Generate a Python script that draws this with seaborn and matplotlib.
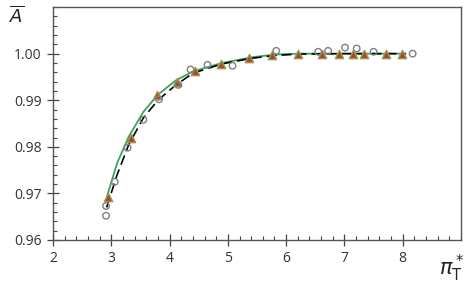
import numpy as np
import pandas as pd
import matplotlib
matplotlib.use("Agg")
import matplotlib.pyplot as plt
from matplotlib.ticker import MultipleLocator, FixedLocator
import seaborn as sns

# green solid curve
green_x = [2.93, 3.1, 3.3, 3.55, 3.8, 4.1, 4.4, 4.9, 5.4, 5.8, 6.2, 7.0, 8.05]
green_y = [0.9695, 0.9765, 0.9822, 0.9875, 0.9912, 0.9942, 0.9962, 0.9980, 0.9992, 0.9998, 1.0000, 1.0000, 1.0000]

# black dashed curve
dash_x = [2.92, 3.1, 3.3, 3.55, 3.8, 4.1, 4.4, 4.9, 5.4, 5.8, 6.2, 7.0, 8.05]
dash_y = [0.9670, 0.9740, 0.9805, 0.9862, 0.9900, 0.9932, 0.9958, 0.9978, 0.9990, 0.9996, 0.9999, 1.0000, 1.0000]

# triangles
tri_x = [2.94, 3.33, 3.79, 4.12, 4.43, 4.89, 5.37, 5.76, 6.21, 6.62, 6.91, 7.15, 7.33, 7.71, 7.98]
tri_y = [0.9693, 0.9820, 0.9912, 0.9940, 0.9963, 0.9978, 0.9991, 0.9998, 1.0000, 1.0000, 1.0000, 1.0000, 1.0000, 1.0000, 1.0000]

# open circles
circ_x = [2.91, 2.91, 3.06, 3.28, 3.55, 3.82, 4.15, 4.36, 4.65, 5.08, 5.83, 6.55, 6.72, 7.01, 7.21, 7.50, 8.17]
circ_y = [0.9673, 0.9652, 0.9725, 0.9798, 0.9858, 0.9902, 0.9933, 0.9966, 0.9976, 0.9974, 1.0006, 1.0004, 1.0006, 1.0013, 1.0011, 1.0004, 1.0000]

sns.set_style("white")
plt.rcParams['font.family'] = ['Open Sans', 'DejaVu Sans']
plt.rcParams['mathtext.fontset'] = 'dejavusans'

fig = plt.figure(figsize=(4.72, 2.83), dpi=100)
ax = fig.add_axes([0.1123, 0.152, 0.8644, 0.823])

sns.lineplot(x=green_x, y=green_y, ax=ax, color="#3aa55a", lw=1.3, sort=False)
sns.lineplot(x=dash_x, y=dash_y, ax=ax, color="black", lw=1.2, sort=False,
             linestyle=(0, (6, 3)))
sns.scatterplot(x=tri_x, y=tri_y, ax=ax, marker="^", s=36, color="#a9463a",
                edgecolor="#9c9a4a", linewidth=1.0, zorder=4)
sns.scatterplot(x=circ_x, y=circ_y, ax=ax, marker="o", s=22, facecolor="none",
                edgecolor="#7f7f7f", linewidth=1.0, zorder=5)

ax.set_xlim(2, 9)
ax.set_ylim(0.96, 1.01)
ax.xaxis.set_major_locator(FixedLocator([2, 3, 4, 5, 6, 7, 8]))
ax.xaxis.set_minor_locator(MultipleLocator(0.2))
ax.yaxis.set_major_locator(FixedLocator([0.96, 0.97, 0.98, 0.99, 1.00]))
ax.yaxis.set_minor_locator(MultipleLocator(0.002))
ax.set_yticklabels(["0.96", "0.97", "0.98", "0.99", "1.00"])

ax.tick_params(which="both", bottom=True, left=True, top=False, right=False)
ax.tick_params(which="major", direction="inout", length=8, width=0.9,
               color="#444444", labelsize=10, labelcolor="#333333", pad=4)
ax.tick_params(which="minor", direction="in", length=3, width=0.8, color="#444444")

for sp in ax.spines.values():
    sp.set_visible(True)
    sp.set_color("#555555")
    sp.set_linewidth(1.0)

ax.set_xlabel("")
ax.set_ylabel("")
fig.text(17 / 472, 1 - 16 / 283, r"$\overline{A}$", fontsize=13, ha="center", va="center",
         color="#222222")
fig.text(452 / 472, 1 - 268 / 283, r"$\pi^*_\mathrm{T}$", fontsize=15, ha="center",
         va="center", color="#222222")

fig.savefig("out.png", dpi=100)
